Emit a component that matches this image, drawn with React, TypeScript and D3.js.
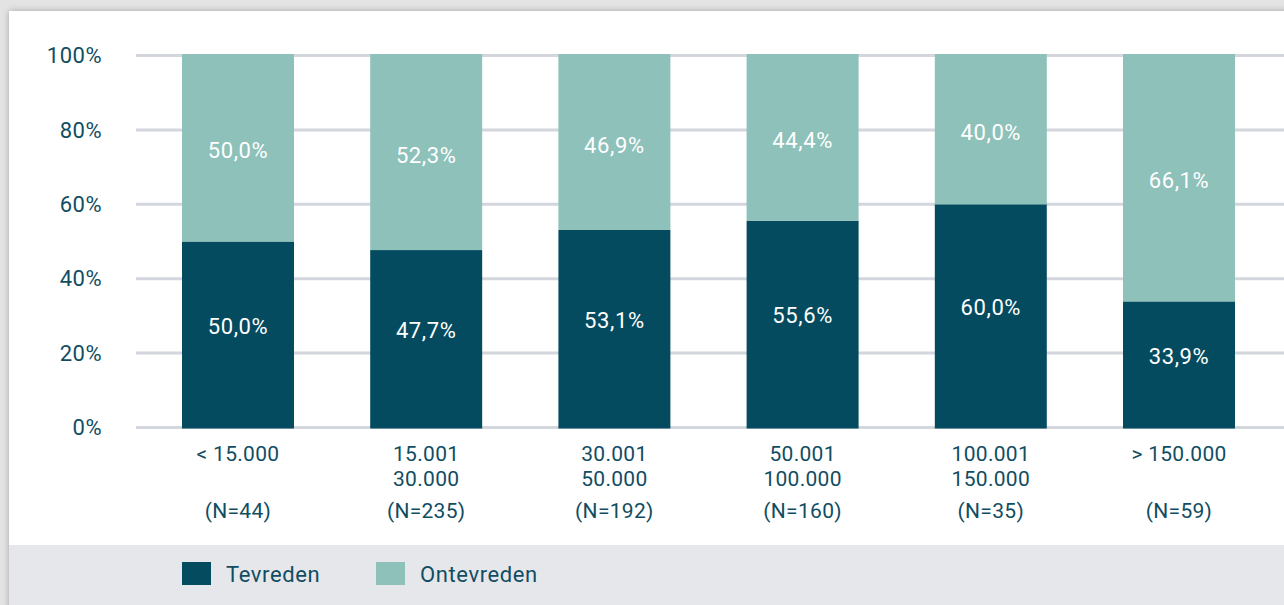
import React from "react";
import * as d3 from "d3";

const categories: string[][] = [
  ["< 15.000"],
  ["15.001", "30.000"],
  ["30.001", "50.000"],
  ["50.001", "100.000"],
  ["100.001", "150.000"],
  ["> 150.000"],
];
const counts: number[] = [44, 235, 192, 160, 35, 59];
const tevreden: number[] = [50.0, 47.7, 53.1, 55.6, 60.0, 33.9];
const ontevreden: number[] = [50.0, 52.3, 46.9, 44.4, 40.0, 66.1];
const yTicks: number[] = [0, 20, 40, 60, 80, 100];
const seriesNames: string[] = ["Tevreden", "Ontevreden"];

const W = 1284;
const H = 605;
const DARK = "#044b5f";
const LIGHT = "#8dc1ba";
const TEXT = "#114d62";
const GRID = "#d3d6dd";
const FONT = "Roboto, 'Noto Sans', sans-serif";

const fmt = (v: number) => v.toFixed(1).replace(".", ",") + "%";

export default function App() {
  const idx = categories.map((_, i) => String(i));
  const x = d3.scaleBand<string>().domain(idx).range([182, 1235]).paddingInner(0.405).paddingOuter(0);
  const y = d3.scaleLinear().domain([0, 100]).range([427.5, 55.5]);
  const colors = [DARK, LIGHT];

  const stacked = d3
    .stack<number>()
    .keys(["0", "1"])
    .value((i, k) => (k === "0" ? tevreden[i] : ontevreden[i]))(d3.range(categories.length));

  return (
    <svg
      width={W}
      height={H}
      style={{ position: "absolute", left: 0, top: 0, display: "block" }}
      fontFamily={FONT}
    >
      <defs>
        <filter id="sh" x="-5%" y="-5%" width="110%" height="110%">
          <feDropShadow dx="0" dy="0" stdDeviation="3" floodColor="#000" floodOpacity="0.28" />
        </filter>
      </defs>
      <rect x={0} y={0} width={W} height={H} fill="#e3e3e3" />
      <rect x={9} y={11} width={W + 20} height={H} fill="#ffffff" filter="url(#sh)" />
      <rect x={9} y={545} width={W} height={H - 545} fill="#e6e7eb" />

      {yTicks.map((t) => (
        <g key={t}>
          <line x1={136} x2={W} y1={y(t)} y2={y(t)} stroke={GRID} strokeWidth={3} />
          <text x={102} y={y(t)} dy="0.35em" textAnchor="end" fontSize={22} fill={TEXT} letterSpacing={0.5}>
            {t}%
          </text>
        </g>
      ))}

      {stacked.map((layer, si) =>
        layer.map((d, i) => {
          const x0 = x(String(i))!;
          const bw = x.bandwidth();
          const top = y(d[1]) - (si === 1 ? 1.5 : 0);
          const bot = y(d[0]) + (si === 0 ? 1 : 0);
          const v = si === 0 ? tevreden[i] : ontevreden[i];
          const mid = (top + bot) / 2 + (si === 0 ? -9 : 3);
          return (
            <g key={si + "-" + i}>
              <rect x={x0} y={top} width={bw} height={bot - top} fill={colors[si]} />
              <text
                x={x0 + bw / 2}
                y={mid}
                dy="0.35em"
                textAnchor="middle"
                fontSize={22}
                fill="#ffffff"
                letterSpacing={0.6}
              >
                {fmt(v)}
              </text>
            </g>
          );
        })
      )}

      {categories.map((lines, i) => {
        const cx = x(String(i))! + x.bandwidth() / 2;
        return (
          <g key={"c" + i} fontSize={21} fill={TEXT} textAnchor="middle" letterSpacing={0.3}>
            {lines.map((l, j) => (
              <text key={j} x={cx} y={461 + j * 25}>
                {l}
              </text>
            ))}
            <text x={cx} y={518}>
              (N={counts[i]})
            </text>
          </g>
        );
      })}

      {seriesNames.map((n, i) => (
        <g key={n}>
          <rect x={182 + i * 194} y={562} width={29} height={23} fill={colors[i]} />
          <text x={226 + i * 194} y={582} fontSize={22} fill={TEXT} letterSpacing={0.6}>
            {n}
          </text>
        </g>
      ))}
    </svg>
  );
}
